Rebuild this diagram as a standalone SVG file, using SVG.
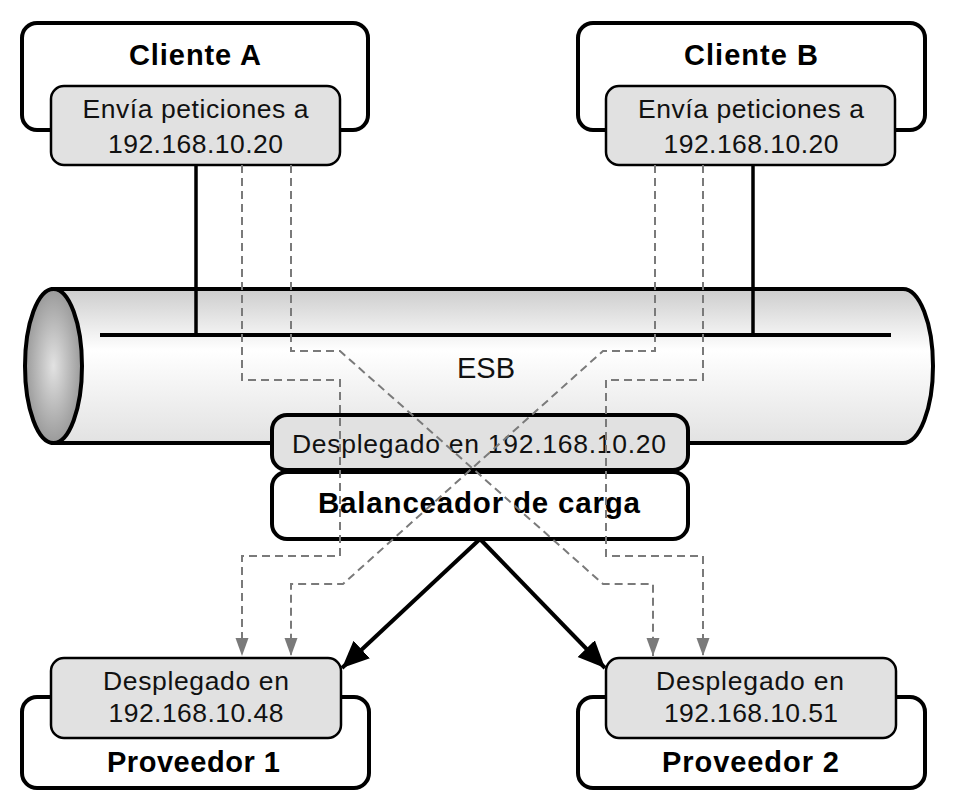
<svg xmlns="http://www.w3.org/2000/svg" width="956" height="812" viewBox="0 0 956 812">
<style>
.outer{fill:#fff;stroke:#000;stroke-width:4}
.inner{fill:#e1e1e1;stroke:#000;stroke-width:2.5}
.cbox{stroke:#000;stroke-width:4}
.t{font-family:"Liberation Sans",Arial,Helvetica,sans-serif;font-size:26.5px;fill:#111;text-anchor:middle}
.b{font-family:"Liberation Sans",Arial,Helvetica,sans-serif;font-size:29px;font-weight:bold;fill:#000;text-anchor:middle}
.solid{fill:none;stroke:#000;stroke-width:3.5}
.dash{fill:none;stroke:#7a7a7a;stroke-width:2;stroke-dasharray:8 5}
.arrow{fill:none;stroke:#000;stroke-width:4}
</style>
<defs>
<linearGradient id="body" x1="0" y1="0" x2="0" y2="1">
<stop offset="0" stop-color="#cdcdcd"/>
<stop offset="0.4" stop-color="#ffffff"/>
<stop offset="1" stop-color="#e2e2e2"/>
</linearGradient>
<radialGradient id="cap" cx="0.5" cy="0.5" r="0.5">
<stop offset="0" stop-color="#e2e2e2"/>
<stop offset="1" stop-color="#9a9a9a"/>
</radialGradient>
<marker id="ah" markerUnits="userSpaceOnUse" markerWidth="30" markerHeight="26" refX="27" refY="12" orient="auto">
<path d="M0,0 L27,12 L0,24 Z" fill="#000"/>
</marker>
<marker id="gh" markerUnits="userSpaceOnUse" markerWidth="20" markerHeight="14" refX="18" refY="6.5" orient="auto">
<path d="M0,0 L18,6.5 L0,13 Z" fill="#7a7a7a"/>
</marker>
</defs>

<g id="esb">
<path d="M53,289 H903 A30,77 0 0 1 903,443 H53 Z" fill="url(#body)" stroke="#000" stroke-width="4"/>
<ellipse cx="53.5" cy="366" rx="28.5" ry="77" fill="url(#cap)" stroke="#000" stroke-width="4"/>
<path d="M100,335 H891" stroke="#000" stroke-width="4" fill="none"/>
<text class="t" x="486" y="378" style="font-size:29px" textLength="58">ESB</text>
</g>

<g id="clienteA">
<rect class="outer" x="22" y="23" width="346" height="107" rx="15"/>
<text class="b" x="195" y="65" textLength="132">Cliente A</text>
<rect class="inner" x="51" y="86" width="289" height="79" rx="13"/>
<text class="t" x="195.5" y="118" textLength="226">Envía peticiones a</text>
<text class="t" x="195.5" y="153" textLength="175">192.168.10.20</text>
</g>

<g id="clienteB">
<rect class="outer" x="578" y="23" width="347" height="107" rx="15"/>
<text class="b" x="751" y="65" textLength="134">Cliente B</text>
<rect class="inner" x="606" y="86" width="289" height="79" rx="13"/>
<text class="t" x="751" y="118" textLength="226">Envía peticiones a</text>
<text class="t" x="751" y="153" textLength="175">192.168.10.20</text>
</g>

<g id="balanceador">
<rect class="cbox" x="272" y="415" width="416" height="55" rx="15" fill="#e1e1e1"/>
<text class="t" x="479" y="453" textLength="374">Desplegado en 192.168.10.20</text>
<rect class="cbox" x="272" y="472" width="416" height="67" rx="15" fill="#fff"/>
<text class="b" x="479" y="513" style="font-size:29.5px" textLength="322">Balanceador de carga</text>
</g>

<g id="proveedor1">
<rect class="outer" x="22" y="697" width="347" height="91" rx="15"/>
<rect class="inner" x="51" y="658" width="290" height="80" rx="13"/>
<text class="t" x="196" y="690" textLength="186">Desplegado en</text>
<text class="t" x="196" y="722" textLength="175">192.168.10.48</text>
<text class="b" x="193.5" y="772" textLength="173">Proveedor 1</text>
</g>

<g id="proveedor2">
<rect class="outer" x="578" y="697" width="347" height="91" rx="15"/>
<rect class="inner" x="606" y="658" width="290" height="80" rx="13"/>
<text class="t" x="750" y="690" textLength="188">Desplegado en</text>
<text class="t" x="751" y="722" textLength="174">192.168.10.51</text>
<text class="b" x="750.5" y="772" textLength="177">Proveedor 2</text>
</g>

<g id="connectors">
<path class="solid" d="M196,165 V335"/>
<path class="solid" d="M753,165 V335"/>
<path class="dash" d="M242,165 V380 H340 V556 H242 V656" marker-end="url(#gh)"/>
<path class="dash" d="M291,165 V351 H340 L603,584 H653 V656" marker-end="url(#gh)"/>
<path class="dash" d="M655,165 V351 H603 L343,584 H291 V656" marker-end="url(#gh)"/>
<path class="dash" d="M703,165 V380 H606 V556 H703 V656" marker-end="url(#gh)"/>
<path class="arrow" d="M480,539 L342,668" marker-end="url(#ah)"/>
<path class="arrow" d="M480,539 L605,668" marker-end="url(#ah)"/>
</g>
</svg>
